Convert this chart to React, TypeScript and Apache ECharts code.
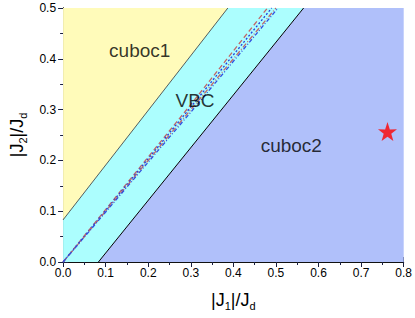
import React, { useEffect, useRef } from "react";
import * as echarts from "echarts";

const xTicks = [0, 0.1, 0.2, 0.3, 0.4, 0.5, 0.6, 0.7, 0.8];
const yTicks = [0, 0.1, 0.2, 0.3, 0.4, 0.5];

// phase regions (polygon vertices [J1, J2])
const cuboc1Region: number[][] = [[0, 0.083], [0.387, 0.5], [0, 0.5]];
const vbcRegion: number[][] = [[0, 0], [0.083, 0], [0.565, 0.5], [0.387, 0.5], [0, 0.083]];
const cuboc2Region: number[][] = [[0.083, 0], [0.8, 0], [0.8, 0.5], [0.565, 0.5]];

// phase boundaries
const upperBoundary: number[][] = [[0, 0.083], [0.387, 0.5]];
const lowerBoundary: number[][] = [[0.083, 0], [0.565, 0.5]];

// dashed guide lines
const guideA: number[][] = [[0, 0], [0.3, 0.31], [0.48, 0.5]];
const guideB: number[][] = [[0, 0], [0.3, 0.305], [0.49, 0.5]];
const guideC: number[][] = [[0, 0], [0.3, 0.3], [0.5, 0.5]];
const guideD: number[][] = [[0, 0], [0.3, 0.295], [0.505, 0.5]];

const starPoint: number[][] = [[0.762, 0.257]];

const phaseLabels = [
  { name: "cuboc1", value: [0.18, 0.416] },
  { name: "VBC", value: [0.31, 0.318] },
  { name: "cuboc2", value: [0.536, 0.23] },
];

const FONT = "Liberation Sans, Arial, sans-serif";

function polygonSeries(pts: number[][], color: string) {
  return {
    type: "custom",
    data: [0],
    silent: true,
    z: 1,
    renderItem: (_params: any, api: any) => ({
      type: "polygon",
      shape: { points: pts.map((p) => api.coord(p)) },
      style: { fill: color, stroke: "none" },
    }),
  };
}

function guideSeries(pts: number[][], color: string, dash: any) {
  return {
    type: "line",
    data: pts,
    symbol: "none",
    z: 3,
    lineStyle: { color, width: 1.3, type: dash },
  };
}

export default function App() {
  const ref = useRef<HTMLDivElement>(null);
  useEffect(() => {
    const chart = echarts.init(ref.current!, undefined, { renderer: "svg" });
    const axisLine = { show: true, lineStyle: { color: "#111", width: 1 } };
    const tickCommon = { show: true, inside: true, length: 5, lineStyle: { color: "#1a2040" } };
    const minorCommon = { show: true, splitNumber: 2, length: 3, lineStyle: { color: "#1a2040" } };
    const fmt = (v: number) => v.toFixed(1);
    const sub = { s: { fontSize: 11, verticalAlign: "bottom", padding: [12, 0, 0, 0], fontFamily: FONT } };
    chart.setOption({
      animation: false,
      textStyle: { fontFamily: FONT },
      grid: { left: 62, right: 11, top: 8, bottom: 56 },
      graphic: [
        {
          type: "rect",
          left: 0,
          top: 0,
          z: -10,
          silent: true,
          shape: { width: 414, height: 317 },
          style: { fill: "#fff", stroke: "#fff", lineWidth: 1 },
        },
      ],
      xAxis: [
        {
          type: "value",
          min: xTicks[0],
          max: xTicks[xTicks.length - 1],
          interval: 0.1,
          axisLine,
          axisTick: tickCommon,
          minorTick: minorCommon,
          splitLine: { show: false },
          axisLabel: { formatter: fmt, fontSize: 12, color: "#000", margin: 5, fontFamily: FONT,
            showMaxLabel: true, showMinLabel: true },
          name: "|J{s|1}|/J{s|d}",
          nameLocation: "middle",
          nameGap: 26,
          nameTextStyle: { fontSize: 18, color: "#000", fontFamily: FONT, rich: sub },
        },
        {
          type: "value",
          position: "top",
          min: xTicks[0],
          max: xTicks[xTicks.length - 1],
          interval: 0.1,
          axisLine,
          axisTick: tickCommon,
          minorTick: minorCommon,
          axisLabel: { show: false },
          splitLine: { show: false },
        },
      ],
      yAxis: [
        {
          type: "value",
          min: yTicks[0],
          max: yTicks[yTicks.length - 1],
          interval: 0.1,
          axisLine,
          axisTick: tickCommon,
          minorTick: minorCommon,
          splitLine: { show: false },
          axisLabel: { formatter: fmt, fontSize: 12, color: "#000", margin: 7, fontFamily: FONT,
            showMaxLabel: true, showMinLabel: true },
          name: "|J{s|2}|/J{s|d}",
          nameLocation: "middle",
          nameRotate: 90,
          nameGap: 30,
          nameTextStyle: { fontSize: 18, color: "#000", fontFamily: FONT, rich: sub },
        },
        {
          type: "value",
          position: "right",
          min: yTicks[0],
          max: yTicks[yTicks.length - 1],
          interval: 0.1,
          axisLine,
          axisTick: tickCommon,
          minorTick: minorCommon,
          axisLabel: { show: false },
          splitLine: { show: false },
        },
      ],
      series: [
        polygonSeries(cuboc1Region, "#fffbba"),
        polygonSeries(vbcRegion, "#acfefe"),
        polygonSeries(cuboc2Region, "#b0c0fa"),
        { type: "line", data: upperBoundary, symbol: "none", z: 2, lineStyle: { color: "#333", width: 0.8 } },
        { type: "line", data: lowerBoundary, symbol: "none", z: 2, lineStyle: { color: "#000", width: 1 } },
        guideSeries(guideA, "#c06868", [5, 3]),
        guideSeries(guideB, "#2040e0", [2, 2]),
        guideSeries(guideC, "#c06868", [5, 2, 1, 2]),
        guideSeries(guideD, "#3050e0", [4, 2, 1, 2]),
        {
          type: "scatter",
          data: starPoint,
          symbol:
            "path://M50,0 L61.8,35.5 L97.6,34.5 L69,56.5 L79.4,90.5 L50,70 L20.6,90.5 L31,56.5 L2.4,34.5 L38.2,35.5 Z",
          symbolSize: 19,
          itemStyle: { color: "#ff0000" },
          z: 5,
        },
        {
          type: "scatter",
          data: phaseLabels,
          symbolSize: 0,
          z: 6,
          silent: true,
          label: {
            show: true,
            position: "inside",
            formatter: (p: any) => p.name,
            fontSize: 19,
            color: "#000",
            fontFamily: FONT,
          },
        },
      ],
    });
    return () => chart.dispose();
  }, []);
  return (
    <div
      ref={ref}
      style={{ position: "absolute", left: 0, top: 0, width: 415, height: 318, background: "#fff" }}
    />
  );
}
